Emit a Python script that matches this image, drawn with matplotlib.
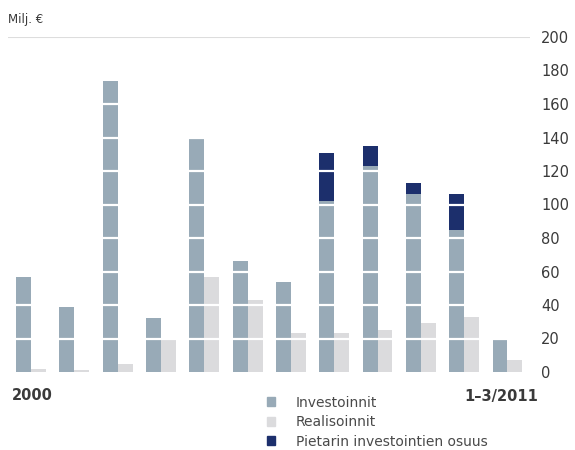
import matplotlib.pyplot as plt
import numpy as np
from matplotlib.patches import Patch

# Values (milj. €)
years = ['2000', '2001', '2002', '2003', '2004', '2005', '2006',
         '2007', '2008', '2009', '2010', '1-3/2011']
investoinnit = [57, 39, 174, 32, 140, 66, 54, 102, 123, 106, 85, 20]
realisoinnit = [2, 1, 5, 20, 57, 43, 23, 23, 25, 29, 33, 7]
pietari = [0, 0, 0, 0, 0, 0, 0, 29, 12, 7, 21, 0]

c_inv = '#98aab7'
c_real = '#dbdbdd'
c_piet = '#1c2f6c'
txt = '#3a3a3a'

fig = plt.figure(figsize=(5.75, 4.5), dpi=100)
ax = fig.add_axes([8 / 575, 78 / 450, 522 / 575, 335 / 450])

x = np.arange(len(years))
w = 0.345
ax.bar(x - w / 2, investoinnit, w, color=c_inv, zorder=2)
ax.bar(x - w / 2, pietari, w, bottom=investoinnit, color=c_piet, zorder=2)
ax.bar(x + w / 2, realisoinnit, w, color=c_real, zorder=2)

# white grid lines cutting through the bars
for v in range(20, 200, 20):
    ax.axhline(v, color='white', lw=1.6, zorder=3)
ax.axhline(200, color='#dddddd', lw=1.5, zorder=1)

ax.set_xlim(-0.53, 11.52)
ax.set_ylim(0, 200)
for s in ax.spines.values():
    s.set_visible(False)
ax.set_xticks([])
ax.yaxis.tick_right()
ax.set_yticks(range(0, 201, 20))
ax.tick_params(axis='y', length=0, pad=8, labelsize=10.5, labelcolor=txt)

fig.text(8 / 575, 1 - 20 / 450, 'Milj. €', fontsize=8.5, color=txt, va='center')
fig.text(12 / 575, 1 - 396 / 450, '2000', fontsize=10.5, color=txt,
         va='center', fontweight='bold')
fig.text(538 / 575, 1 - 396 / 450, '1–3/2011', fontsize=10.5, color=txt,
         va='center', ha='right', fontweight='bold')

handles = [Patch(color=c_inv, label='Investoinnit'),
           Patch(color=c_real, label='Realisoinnit'),
           Patch(color=c_piet, label='Pietarin investointien osuus')]
fig.legend(handles=handles, loc='upper left',
           bbox_to_anchor=(261 / 575, 1 - 390 / 450), frameon=False,
           fontsize=10, labelcolor='#4a4a4a', handlelength=0.6, handleheight=0.6,
           handletextpad=1.5, labelspacing=0.4, borderaxespad=0)

plt.savefig('out.png', dpi=100)
